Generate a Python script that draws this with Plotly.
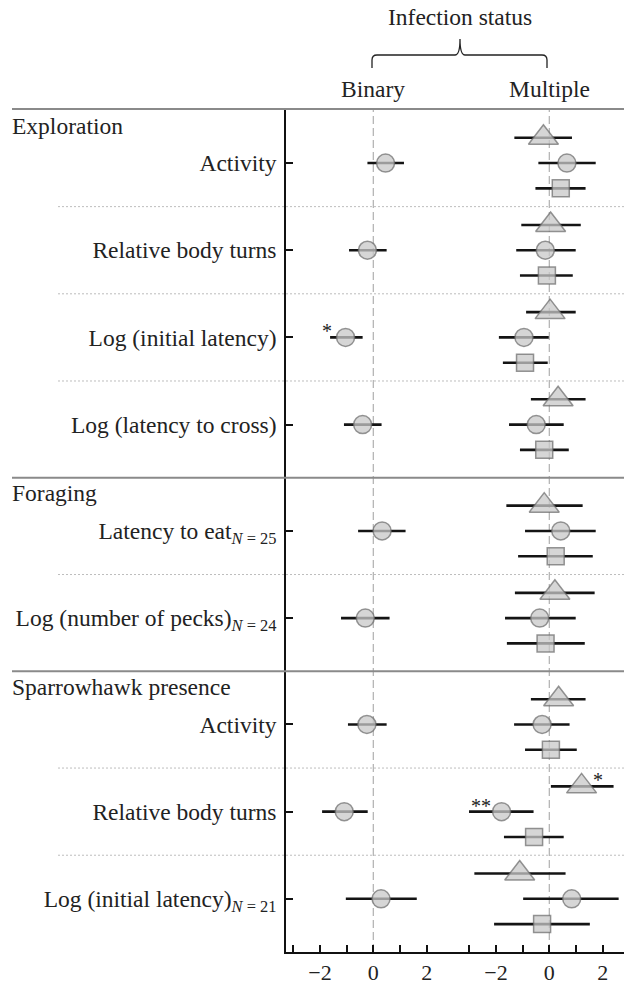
import plotly.graph_objects as go

# ---------------- data ----------------
groups = ["Exploration", "Foraging", "Sparrowhawk presence"]
group_sizes = [4, 2, 3]
row_labels = [
    "Activity",
    "Relative body turns",
    "Log (initial latency)",
    "Log (latency to cross)",
    "Latency to eat<sub><i>N</i> = 25</sub>",
    "Log (number of pecks)<sub><i>N</i> = 24</sub>",
    "Activity",
    "Relative body turns",
    "Log (initial latency)<sub><i>N</i> = 21</sub>",
]

# Binary infection status (circles)
binary_est = [0.46, -0.22, -1.04, -0.40, 0.33, -0.30, -0.24, -1.09, 0.29]
binary_lo = [-0.22, -0.91, -1.62, -1.10, -0.57, -1.21, -0.95, -1.92, -1.03]
binary_hi = [1.15, 0.50, -0.40, 0.31, 1.21, 0.61, 0.50, -0.21, 1.63]

# Multiple infection status: triangles, circles, squares
tri_est = [-0.22, 0.05, 0.03, 0.33, -0.19, 0.21, 0.35, 1.21, -1.11]
tri_lo = [-1.31, -1.05, -0.87, -0.69, -1.61, -1.29, -0.69, 0.06, -2.81]
tri_hi = [0.85, 1.18, 0.99, 1.36, 1.25, 1.70, 1.36, 2.41, 0.61]

circ_est = [0.66, -0.15, -0.95, -0.49, 0.43, -0.36, -0.27, -1.79, 0.84]
circ_lo = [-0.41, -1.24, -1.89, -1.51, -0.91, -1.66, -1.32, -3.01, -0.98]
circ_hi = [1.74, 0.99, -0.02, 0.54, 1.74, 0.99, 0.76, -0.59, 2.60]

sq_est = [0.43, -0.09, -0.91, -0.19, 0.24, -0.14, 0.06, -0.57, -0.27]
sq_lo = [-0.52, -1.10, -1.74, -1.10, -1.17, -1.59, -0.91, -1.70, -2.07]
sq_hi = [1.36, 0.88, -0.06, 0.73, 1.63, 1.33, 1.03, 0.54, 1.52]

x_major_ticks = [-2, 0, 2]
x_major_text = ["\u22122", "0", "2"]
x_minor_ticks = [-3, -1, 1]

# significance marks: (series, row, label, side of CI)
sig_marks = [
    ("binary", 2, "*", "lo"),
    ("tri", 7, "*", "hi"),
    ("circ", 7, "**", "lo"),
]

# ---------------- layout geometry ----------------
W, H = 624, 984
ML, MR, MT, MB = 286, 0, 109, 32
PW, PH = W - ML - MR, H - MT - MB
SPLIT = 448  # pixel x where the two panels meet
d = (SPLIT - ML) / PW

FONT = "Liberation Serif"
FS = 23.5

GAP = 0.22
pos = []
group_start = []
p = 0.0
for n in group_sizes:
    group_start.append(p)
    for k in range(n):
        pos.append(p)
        p += 1
    p += GAP

Y_TOP, Y_BOT = -0.62, 9.05
OFF = 0.29


def px_x(x):
    return (x - ML) / PW


def px_y(y):
    return (H - MB - y) / PH


MARK_FILL = "rgba(200,200,200,0.75)"
MARK_LINE = "rgba(105,105,105,0.7)"


def trace(est, lo, hi, dy, symbol, size, xa):
    return go.Scatter(
        x=est,
        y=[v + dy for v in pos],
        mode="markers",
        xaxis=xa,
        yaxis="y",
        marker=dict(symbol=symbol, size=size, color=MARK_FILL,
                    line=dict(color=MARK_LINE, width=1.5)),
        error_x=dict(type="data", symmetric=False,
                     array=[h - e for h, e in zip(hi, est)],
                     arrayminus=[e - l for e, l in zip(est, lo)],
                     color="#141414", thickness=2.6, width=0),
        showlegend=False,
        hoverinfo="skip",
    )


fig = go.Figure()
fig.add_trace(trace(binary_est, binary_lo, binary_hi, 0, "circle", 18, "x"))
fig.add_trace(trace(tri_est, tri_lo, tri_hi, -OFF, "triangle-up", 26, "x2"))
fig.add_trace(trace(circ_est, circ_lo, circ_hi, 0, "circle", 18, "x2"))
fig.add_trace(trace(sq_est, sq_lo, sq_hi, OFF, "square", 17, "x2"))

shapes = []
# zero dashed lines
for xa in ("x", "x2"):
    shapes.append(dict(type="line", xref=xa, yref="paper", x0=0, x1=0, y0=0, y1=1,
                       line=dict(color="#b0b0b0", width=1.2, dash="8px,4px"), layer="below"))
# solid group separators (top + between groups)
shapes.append(dict(type="line", xref="paper", yref="paper", x0=px_x(12), x1=1, y0=1, y1=1,
                   line=dict(color="#8a8a8a", width=2)))
for gs in group_start[1:]:
    yv = gs - 0.5 - GAP / 2
    shapes.append(dict(type="line", xref="paper", yref="y", x0=px_x(12), x1=1, y0=yv, y1=yv,
                       line=dict(color="#8a8a8a", width=2)))
# dotted separators within groups
i = 0
for n in group_sizes:
    for k in range(n - 1):
        yv = (pos[i + k] + pos[i + k + 1]) / 2
        shapes.append(dict(type="line", xref="paper", yref="y", x0=px_x(58), x1=1, y0=yv, y1=yv,
                           line=dict(color="#bdbdbd", width=1, dash="2px,2px"), layer="below"))
    i += n

# brace over panel headers
bx0, bx1, bxm = 372, 547, 460
by_end, by_bar, by_tip = 68, 55, 39
pts = [
    ("M", [(bx0, by_end)]),
    ("L", [(bx0, by_bar + 5)]),
    ("Q", [(bx0, by_bar), (bx0 + 5, by_bar)]),
    ("L", [(bxm - 5, by_bar)]),
    ("Q", [(bxm, by_bar), (bxm, by_tip)]),
    ("Q", [(bxm, by_bar), (bxm + 5, by_bar)]),
    ("L", [(bx1 - 5, by_bar)]),
    ("Q", [(bx1, by_bar), (bx1, by_bar + 5)]),
    ("L", [(bx1, by_end)]),
]
path = " ".join(cmd + " " + " ".join(f"{px_x(a):.5f},{px_y(b):.5f}" for a, b in c) for cmd, c in pts)
shapes.append(dict(type="path", xref="paper", yref="paper", path=path,
                   line=dict(color="#222", width=1.3)))

annotations = []
txtfont = dict(family=FONT, size=FS, color="#222")
for g, gs in zip(groups, group_start):
    annotations.append(dict(text=g, xref="paper", yref="y", x=px_x(10), y=gs - 0.43,
                            xanchor="left", yanchor="middle", showarrow=False, font=txtfont))
annotations.append(dict(text="Binary", xref="x", yref="paper", x=0, y=px_y(89),
                        xanchor="center", yanchor="middle", showarrow=False, font=txtfont))
annotations.append(dict(text="Multiple", xref="x2", yref="paper", x=0, y=px_y(89),
                        xanchor="center", yanchor="middle", showarrow=False, font=txtfont))
annotations.append(dict(text="Infection status", xref="paper", yref="paper", x=px_x(460), y=px_y(17),
                        xanchor="center", yanchor="middle", showarrow=False, font=txtfont))

series = {
    "binary": (binary_lo, binary_hi, 0, "x"),
    "tri": (tri_lo, tri_hi, -OFF, "x2"),
    "circ": (circ_lo, circ_hi, 0, "x2"),
    "sq": (sq_lo, sq_hi, OFF, "x2"),
}
for key, r, lab, side in sig_marks:
    lo, hi, dy, xa = series[key]
    if side == "lo":
        xv = lo[r]
        anchor = "right" if key == "binary" else "left"
        xs = 4 if key == "binary" else 0
    else:
        xv = hi[r]
        anchor = "right"
        xs = -9
    annotations.append(dict(text=lab, xref=xa, yref="y", x=xv, y=pos[r] + dy,
                            xanchor=anchor, yanchor="middle", xshift=xs, yshift=6,
                            showarrow=False, font=dict(family=FONT, size=20, color="#222")))

xcommon = dict(tickmode="array", tickvals=x_major_ticks, ticktext=x_major_text,
               ticks="inside", ticklen=7, tickwidth=2,
               tickcolor="#111", showline=True, linecolor="#111", linewidth=1.6,
               showgrid=False, zeroline=False, anchor="y",
               minor=dict(tickmode="array", tickvals=x_minor_ticks, ticks="inside",
                          ticklen=7, tickwidth=2, tickcolor="#111", showgrid=False),
               tickfont=dict(family=FONT, size=22, color="#222"))

fig.update_layout(
    width=W, height=H, autosize=False,
    margin=dict(l=ML, r=MR, t=MT, b=MB, pad=0),
    plot_bgcolor="white", paper_bgcolor="white",
    xaxis=dict(domain=[0, d], range=[(ML - 373.3) / 26.67, (SPLIT - 373.3) / 26.67], **xcommon),
    xaxis2=dict(domain=[d, 1], range=[(SPLIT - 549.3) / 26.67, (W - 549.3) / 26.67], **xcommon),
    yaxis=dict(range=[Y_BOT, Y_TOP], tickvals=pos, ticktext=row_labels, ticks="inside",
               ticklen=7, tickwidth=2, tickcolor="#111", showline=True, linecolor="#111",
               linewidth=1.6, showgrid=False, zeroline=False, anchor="x",
               ticklabelstandoff=3,
               tickfont=dict(family=FONT, size=FS, color="#222")),
    shapes=shapes,
    annotations=annotations,
    font=dict(family=FONT),
)

fig.write_html("out.html", config={"displayModeBar": False},
               post_script="document.body.style.margin='0';document.body.style.overflow='hidden';")
